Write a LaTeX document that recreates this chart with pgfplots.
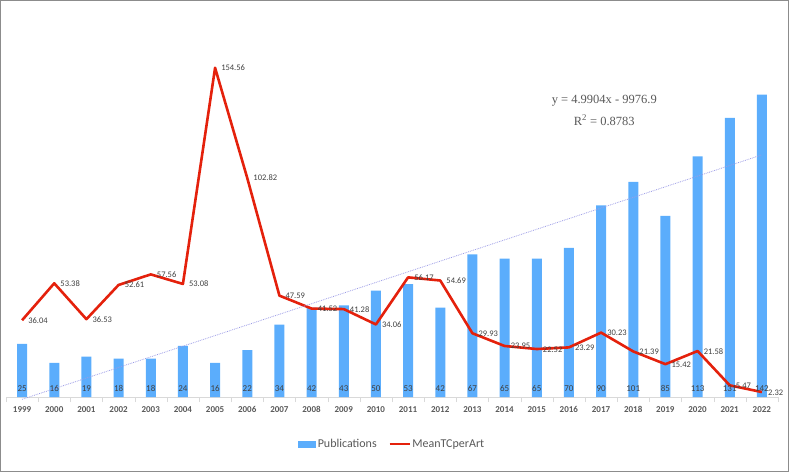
\documentclass[border=0pt]{standalone}
\usepackage{pgfplots}
\pgfplotsset{compat=1.18}
\usepackage{pgfplotstable}
\usepackage{fontspec}
\setmainfont{Carlito}
\newfontfamily\serifeq{Liberation Serif}
\definecolor{barblue}{HTML}{5BADFC}
\definecolor{linered}{HTML}{E4210C}
\definecolor{trend}{HTML}{9C9CE6}
\definecolor{txt}{HTML}{595959}
\definecolor{lbl}{HTML}{404040}
\pgfplotstableread{
year pub tc
1999 25 36.04
2000 16 53.38
2001 19 36.53
2002 18 52.61
2003 18 57.56
2004 24 53.08
2005 16 154.56
2006 22 102.82
2007 34 47.59
2008 42 41.52
2009 43 41.28
2010 50 34.06
2011 53 56.17
2012 42 54.69
2013 67 29.93
2014 65 23.95
2015 65 22.52
2016 70 23.29
2017 90 30.23
2018 101 21.39
2019 85 15.42
2020 113 21.58
2021 131 5.47
2022 142 2.32
}\datatable
\begin{document}
\begin{tikzpicture}
\useasboundingbox (0,0) rectangle (789pt,472pt);
\draw[draw=gray!90, line width=1.3pt] (0.65pt,0.65pt) rectangle (788.35pt,471.35pt);
\begin{axis}[
  at={(6pt,75pt)}, anchor=south west,
  scale only axis, width=772pt, height=383.4pt,
  xmin=1998.5, xmax=2022.5, ymin=0, ymax=180,
  axis y line=none, axis x line*=bottom,
  axis line style={draw=gray!30},
  xtick={1999,...,2022},
  major tick length=0pt,
  extra x ticks={1998.5,1999.5,...,2022.5},
  extra x tick labels={},
  extra x tick style={major tick length=5pt, xtick align=outside, tick style={draw=gray!30}},
  xticklabel style={font=\fontsize{9}{9}\selectfont\bfseries, text=txt, anchor=base, yshift=-15pt, /pgf/number format/1000 sep={}, /pgf/number format/assume math mode=true},
  clip=false,
  legend style={at={(0.5,-0.1226)}, anchor=center, draw=none, legend columns=2,
    font=\fontsize{12}{12}\selectfont, text=txt,
    /tikz/every even column/.append style={column sep=10pt}},
  legend cell align=left,
]
\addplot[ybar, bar width=10pt, fill=barblue, draw=none,
  area legend,
  legend image code/.code={\fill[barblue] (0pt,-3.5pt) rectangle (18pt,3.5pt);}]
  table[x=year, y=pub] {\datatable};
\addlegendentry{Publications}
\addplot[color=linered, line width=2.6pt, mark=none, line join=round,
  legend image code/.code={\draw[linered, line width=1.6pt] (0pt,0pt) -- (20pt,0pt);}]
  table[x=year, y=tc] {\datatable};
\addlegendentry{MeanTCperArt}
% trendline
\addplot[forget plot, color=trend, densely dotted, line width=0.8pt] coordinates {(1999,-1.09) (2022,113.69)};
% bar labels
\addplot[forget plot, draw=none, mark=none, nodes near coords, point meta=explicit symbolic,
  every node near coord/.append style={anchor=base, yshift=6pt, font=\fontsize{9}{9}\selectfont, text=lbl}]
  table[x=year, y expr=0, meta=pub] {\datatable};
% line labels
\addplot[forget plot, draw=none, mark=none, nodes near coords, point meta=explicit symbolic,
  every node near coord/.append style={anchor=base west, yshift=-3pt, xshift=5pt, inner sep=1pt, font=\fontsize{8.5}{8.5}\selectfont, text=lbl}]
  table[x=year, y=tc, meta=tc] {\datatable};
\node[font=\serifeq\fontsize{12.5}{12.5}\selectfont, text=txt] at (axis cs:2017.1,139.2) {y = 4.9904x - 9976.9};
\node[font=\serifeq\fontsize{12.5}{12.5}\selectfont, text=txt] at (axis cs:2017.1,130) {R\textsuperscript{2} = 0.8783};
\end{axis}
\end{tikzpicture}
\end{document}
